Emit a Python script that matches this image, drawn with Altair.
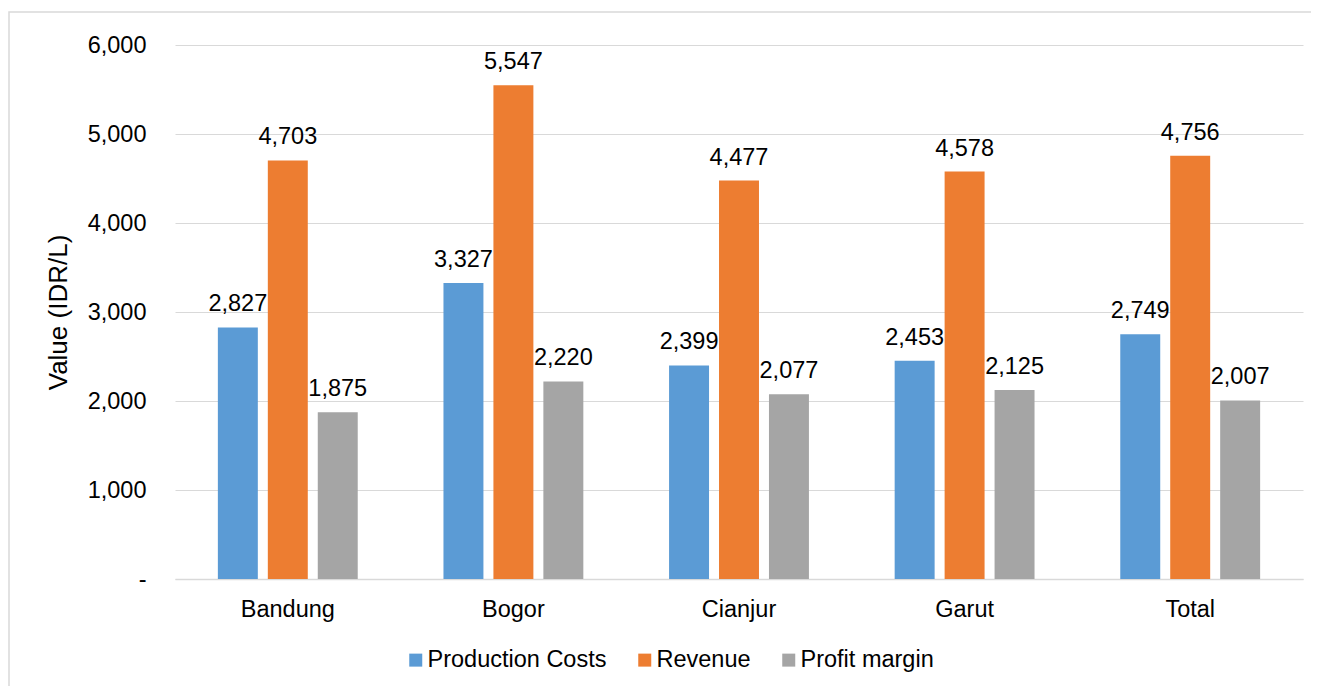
import altair as alt
import pandas as pd

regions = ["Bandung", "Bogor", "Cianjur", "Garut", "Total"]
series = ["Production Costs", "Revenue", "Profit margin"]
production_costs = [2827, 3327, 2399, 2453, 2749]
revenue = [4703, 5547, 4477, 4578, 4756]
profit_margin = [1875, 2220, 2077, 2125, 2007]
colors = ["#5B9BD5", "#ED7D31", "#A5A5A5"]

rows = []
for i, r in enumerate(regions):
    for s, vals in zip(series, [production_costs, revenue, profit_margin]):
        rows.append({"Region": r, "Series": s, "Value": vals[i]})
df = pd.DataFrame(rows)

FONT = "Liberation Sans"
FS = 23.5

x_axis = alt.Axis(labelAngle=0, labelFontSize=FS, labelColor="#000000",
                  labelFont=FONT, ticks=False, domainColor="#d9d9d9",
                  domainWidth=1.5, labelPadding=18, grid=False)
y_axis = alt.Axis(values=[0, 1000, 2000, 3000, 4000, 5000, 6000],
                  labelExpr="datum.value == 0 ? '-' : format(datum.value, ',')",
                  labelFontSize=FS, labelColor="#000000", labelFont=FONT,
                  titleFontSize=26, titleFont=FONT, titleFontWeight="normal",
                  titleColor="#000000", titlePadding=16,
                  domain=False, ticks=False, labelPadding=29,
                  gridColor="#d9d9d9", gridWidth=1.2)

x = alt.X("Region:N", sort=regions, title=None,
          scale=alt.Scale(paddingInner=0.38, paddingOuter=0.19), axis=x_axis)
y = alt.Y("Value:Q", title="Value (IDR/L)",
          scale=alt.Scale(domain=[0, 6000], nice=False), axis=y_axis)
xoff = alt.XOffset("Series:N", sort=series,
                   scale=alt.Scale(paddingInner=0.2, paddingOuter=0))
color = alt.Color("Series:N", sort=series,
                  scale=alt.Scale(domain=series, range=colors),
                  legend=alt.Legend(title=None, orient="none", direction="horizontal",
                                    legendX=229, legendY=603,
                                    symbolType="square", symbolSize=169,
                                    symbolStrokeWidth=0, symbolOpacity=1,
                                    labelFontSize=FS, labelFont=FONT,
                                    labelColor="#000000", labelOffset=0,
                                    labelLimit=400, columnPadding=26))

base = alt.Chart(df)

bars = base.mark_bar(opacity=1).encode(x=x, y=y, xOffset=xoff, color=color)

labels = base.mark_text(baseline="alphabetic", dy=-16, fontSize=FS, font=FONT,
                        color="#000000").encode(
    x=x,
    y=y,
    xOffset=xoff,
    text=alt.Text("Value:Q", format=","),
)

frame = alt.Chart(pd.DataFrame({"a": [0]})).mark_rect(
    fill=None, stroke="#d9d9d9", strokeWidth=1.5
).encode(x=alt.value(-166), x2=alt.value(1250), y=alt.value(-33), y2=alt.value(750))

chart = alt.layer(frame, bars, labels).properties(
    width=1128, height=534,
    background="#ffffff",
    autosize=alt.AutoSizeParams(type="none"),
    padding={"left": 167, "top": 37, "right": 8, "bottom": 130},
).configure_view(stroke=None)

chart.save("out.html", embed_options={"renderer": "svg", "actions": False})
